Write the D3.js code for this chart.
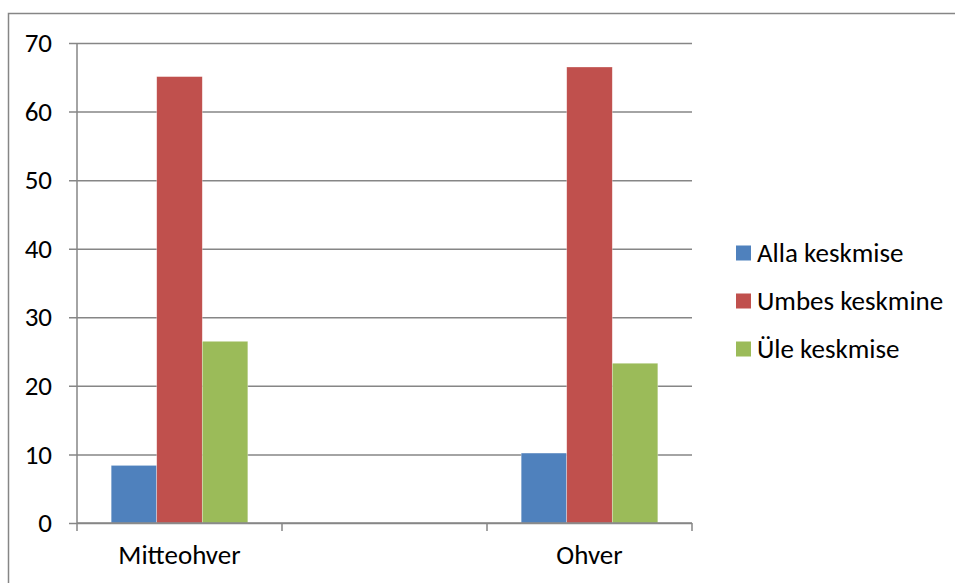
<!DOCTYPE html>
<html>
<head>
<meta charset="utf-8">
<script src="https://cdn.jsdelivr.net/npm/d3@7"></script>
<style>
  html, body { margin: 0; padding: 0; background: #fff; }
  svg text { font-family: Carlito, Lato, "Open Sans", sans-serif; fill: #000; }
</style>
</head>
<body>
<svg id="chart" width="955" height="583"></svg>
<script>
// Data
const categories = ["Mitteohver", "", "Ohver"];
const seriesNames = ["Alla keskmise", "Umbes keskmine", "Üle keskmise"];
const allaKeskmise = [8.4, null, 10.2];
const umbesKeskmine = [65.1, null, 66.5];
const uleKeskmise = [26.5, null, 23.3];
const yTicks = [0, 10, 20, 30, 40, 50, 60, 70];
const colors = ["#4F81BD", "#C0504D", "#9BBB59"];

const seriesValues = [allaKeskmise, umbesKeskmine, uleKeskmise];
const FS = 27;
const FF = "Carlito, Lato, 'Open Sans', sans-serif";

const svg = d3.select("#chart");

// outer chart border
svg.append("rect")
  .attr("x", 8.5).attr("y", 13.5)
  .attr("width", 960).attr("height", 600)
  .attr("fill", "none").attr("stroke", "#868686").attr("stroke-width", 1.5);

const plot = { left: 77, right: 692, top: 43, bottom: 523 };

const x = d3.scaleBand().domain(d3.range(categories.length))
  .range([plot.left, plot.right]).paddingInner(0).paddingOuter(0);
const groupPad = 0.5; // gap width 50%
const groupWidth = x.bandwidth() / (1 + groupPad);
const x1 = d3.scaleBand().domain(d3.range(seriesNames.length))
  .range([0, groupWidth]).padding(0);

const y = d3.scaleLinear().domain([0, 70]).range([plot.bottom, plot.top]);

// gridlines + y axis
const yAxis = d3.axisLeft(y).tickValues(yTicks).tickSize(-(plot.right - plot.left)).tickPadding(25).tickFormat(d3.format("d"));
const gy = svg.append("g").attr("transform", `translate(${plot.left},0)`).call(yAxis);
gy.attr("font-size", FS).attr("font-family", FF);
gy.select(".domain").remove();
gy.selectAll(".tick line").attr("stroke", "#868686").attr("stroke-width", 1.5).attr("x1", -8);
gy.selectAll(".tick text").attr("font-size", FS).attr("fill", "#000");

// bars
const groups = svg.append("g").selectAll("g")
  .data(categories.map((c, i) => i))
  .join("g")
  .attr("transform", i => `translate(${x(i) + (x.bandwidth() - groupWidth) / 2},0)`);

groups.selectAll("rect")
  .data(i => seriesValues.map((s, k) => ({ k, v: s[i] })).filter(d => d.v != null))
  .join("rect")
  .attr("x", d => x1(d.k))
  .attr("width", x1.bandwidth())
  .attr("y", d => y(d.v))
  .attr("height", d => y(0) - y(d.v))
  .attr("fill", d => colors[d.k])
  .attr("stroke", "rgba(255,255,255,0.5)")
  .attr("stroke-width", 0.6);

// y axis line
svg.append("line")
  .attr("x1", plot.left).attr("x2", plot.left)
  .attr("y1", plot.top).attr("y2", plot.bottom)
  .attr("stroke", "#868686").attr("stroke-width", 1.5);

// x axis
const xAxis = d3.axisBottom(x).tickSize(0).tickPadding(22).tickFormat(i => categories[i]);
const gx = svg.append("g").attr("transform", `translate(0,${plot.bottom})`).call(xAxis);
gx.attr("font-size", FS).attr("font-family", FF);
gx.select(".domain").attr("stroke", "#868686").attr("stroke-width", 1.5).attr("d", `M${plot.left},0H${plot.right}`);
gx.selectAll(".tick text").attr("font-size", FS).attr("fill", "#000");
// category boundary ticks
const boundaries = d3.range(categories.length + 1).map(i => plot.left + i * x.bandwidth());
gx.selectAll(".btick").data(boundaries).join("line")
  .attr("class", "btick")
  .attr("x1", d => d).attr("x2", d => d)
  .attr("y1", 0).attr("y2", 8)
  .attr("stroke", "#868686").attr("stroke-width", 1.5);

// legend
const legend = svg.append("g").attr("transform", "translate(736,253)");
const li = legend.selectAll("g").data(seriesNames).join("g")
  .attr("transform", (d, i) => `translate(0,${i * 48})`);
li.append("rect").attr("x", 0).attr("y", -7.5).attr("width", 15).attr("height", 15)
  .attr("fill", (d, i) => colors[i]);
li.append("text").attr("x", 21).attr("y", 0).attr("dy", "0.35em")
  .attr("font-size", FS).attr("font-family", FF).text(d => d);
</script>
</body>
</html>
